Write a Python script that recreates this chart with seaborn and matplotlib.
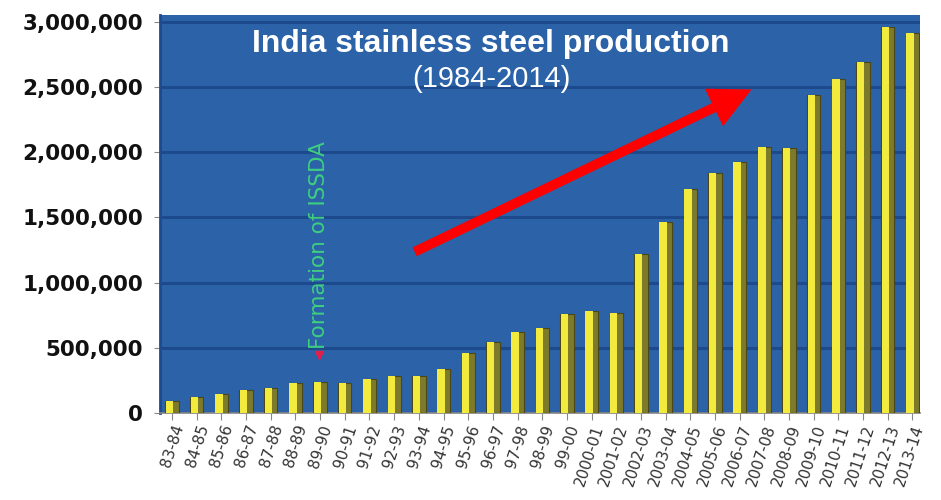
import matplotlib
matplotlib.use("Agg")
import matplotlib.pyplot as plt
import seaborn as sns
import pandas as pd
from matplotlib.ticker import FuncFormatter

# ---- data ----
years = ["83-84", "84-85", "85-86", "86-87", "87-88", "88-89", "89-90", "90-91",
         "91-92", "92-93", "93-94", "94-95", "95-96", "96-97", "97-98", "98-99",
         "99-00", "2000-01", "2001-02", "2002-03", "2003-04", "2004-05", "2005-06",
         "2006-07", "2007-08", "2008-09", "2009-10", "2010-11", "2011-12",
         "2012-13", "2013-14"]
production = [90000, 120000, 145000, 175000, 195000, 230000, 235000, 230000,
              260000, 280000, 285000, 340000, 460000, 545000, 620000, 650000,
              760000, 785000, 770000, 1220000, 1460000, 1720000, 1840000,
              1920000, 2040000, 2030000, 2440000, 2560000, 2690000,
              2960000, 2910000]
y_ticks = [0, 500000, 1000000, 1500000, 2000000, 2500000, 3000000]
title_text = "India stainless steel production"
subtitle_text = "(1984-2014)"
event_label = "Formation of ISSDA"
event_year = "89-90"

df = pd.DataFrame({"year": years, "production": production})

sns.set_theme(style="white")
plt.rcParams["font.family"] = ["DejaVu Sans"]

fig = plt.figure(figsize=(9.41, 5.0), dpi=100)
ax = fig.add_axes([0.170, 0.174, 0.808, 0.796])
ax.set_facecolor("#2b62a8")

# 3D-ish bars: dark olive body with a yellow front face
sns.barplot(data=df, x="year", y="production", color="#7d7a2c", width=0.54,
            saturation=1, ax=ax, zorder=3, edgecolor="#4a4718", linewidth=0.8)
n = len(ax.patches)
sns.barplot(data=df, x="year", y="production", color="#f2ea3c", width=0.30,
            saturation=1, ax=ax, zorder=4, linewidth=0)
for p in ax.patches[n:]:
    p.set_x(p.get_x() - 0.10)

ax.set_ylim(0, 3050000)
ax.set_xlim(-0.49, len(years) - 0.68)
ax.set_yticks(y_ticks)
ax.yaxis.set_major_formatter(FuncFormatter(lambda v, _: f"{int(v):,}"))
ax.grid(axis="y", color="#1d4a8c", linewidth=2.2, zorder=1)
ax.set_axisbelow(True)

for lab in ax.get_yticklabels():
    lab.set_fontweight("bold")
    lab.set_fontsize(15.5)
    lab.set_color("#111111")
ax.tick_params(axis="y", length=4, width=0.8, color="#888888", pad=8, left=True)
ax.tick_params(axis="x", length=5, width=0.8, color="#888888", pad=2, bottom=True)
ax.set_xticks(range(len(years)))
ax.set_xticklabels(years, rotation=72, ha="right", rotation_mode="anchor",
                   fontsize=11, color="#333333")
ax.set_xlabel("")
ax.set_ylabel("")
for s in ["top", "right"]:
    ax.spines[s].set_visible(False)
ax.spines["left"].set_color("#1d4a8c")
ax.spines["left"].set_linewidth(2)
ax.spines["bottom"].set_color("#888888")

# Titles inside the plot
fig.text(491 / 941, 1 - 44 / 500, title_text, ha="center", va="center",
         color="white", fontsize=23, fontweight="bold", family="Liberation Sans")
fig.text(491 / 941, 1 - 79 / 500, subtitle_text, ha="center", va="center",
         color="white", fontsize=21, family="Liberation Sans")

# Event annotation
ex = years.index(event_year)
ax.text(ex - 0.05, 490000, event_label, rotation=90, ha="center", va="bottom",
        color="#3fcf80", fontsize=15.5, zorder=5)
ax.plot([ex - 0.05], [445000], marker="v", color="#e0204a", markersize=6, zorder=5)

# Big red trend arrow
ax.annotate("", xy=(0.778, 0.813), xytext=(0.335, 0.405),
            xycoords="axes fraction",
            arrowprops=dict(width=7, headwidth=30, headlength=30,
                            facecolor="#ff0000", edgecolor="#ff0000", lw=0,
                            shrink=0),
            zorder=6)

fig.savefig("out.png", dpi=100, facecolor="white")
